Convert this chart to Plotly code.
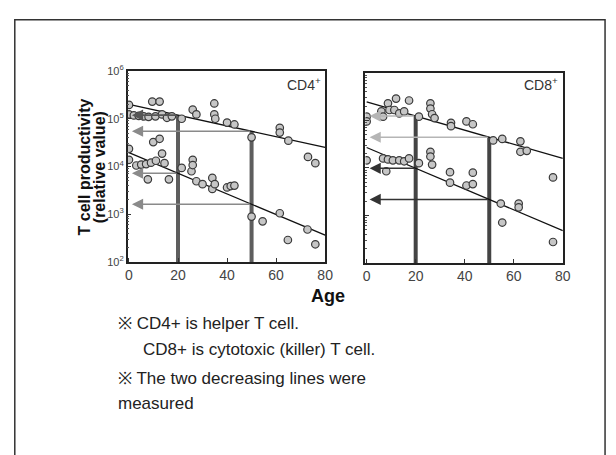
import plotly.graph_objects as go

W, H = 616, 455

# ---------------- data (log10 of relative value) ----------------
cd4_hi_age = [0, 0, 2, 4, 6, 8, 9.5, 10.8, 12.5, 13.5, 15.5, 17.5, 21.5, 26, 27.5, 34.8, 34.8, 35.2, 40, 43, 50, 61.5, 61.5, 65, 73, 76]
cd4_hi_log = [5.29, 5.09, 5.07, 5.06, 5.05, 5.04, 5.36, 5.05, 5.36, 5.09, 5.02, 5.05, 5.0, 5.19, 5.09, 5.32, 5.09, 5.0, 4.92, 4.88, 4.61, 4.81, 4.71, 4.54, 4.2, 4.07]
cd4_lo_age = [0, 0, 3, 5, 7, 7.7, 9, 9.9, 11, 12.5, 13.5, 14.5, 16.3, 21.5, 25.5, 26, 26, 27.5, 30, 34, 34, 35, 40, 41.5, 43, 50, 54.5, 61.5, 64.8, 72.8, 76]
cd4_lo_log = [4.37, 4.14, 4.02, 4.04, 4.05, 3.73, 4.08, 4.51, 4.12, 4.58, 4.27, 4.07, 3.73, 3.97, 3.9, 4.14, 4.03, 3.69, 3.63, 3.76, 3.53, 3.63, 3.56, 3.59, 3.6, 2.95, 2.85, 3.02, 2.46, 2.68, 2.37]
cd8_hi_age = [0, 0, 6, 6.7, 8.7, 9.3, 11.3, 12, 13.3, 15.3, 17.3, 21.3, 26, 26, 26.7, 27.7, 34.4, 34.4, 40.7, 43.3, 51.6, 55.3, 62.7, 62.7, 65.3, 76]
cd8_hi_log = [5.08, 4.98, 5.19, 5.08, 5.36, 5.22, 5.22, 5.46, 5.15, 5.19, 5.42, 5.08, 5.36, 5.25, 5.13, 5.05, 4.95, 4.88, 4.98, 4.92, 4.58, 4.61, 4.56, 4.34, 4.36, 3.80]
cd8_lo_age = [0, 6.7, 8, 8.7, 10.7, 13.3, 15.3, 17.3, 21.3, 26, 26, 26.7, 34, 34, 40.7, 43.3, 43.3, 54.7, 55.3, 62, 62, 76]
cd8_lo_log = [4.16, 4.20, 3.93, 4.18, 4.16, 4.16, 4.14, 4.20, 4.10, 4.34, 4.24, 4.07, 3.91, 3.69, 3.63, 3.66, 3.90, 3.25, 2.85, 3.25, 3.17, 2.44]

# regression lines: [log value at age 0, log value at age 80]
cd4_hi_fit = [5.30, 4.40]
cd4_lo_fit = [4.29, 2.56]
cd8_hi_fit = [5.39, 4.20]
cd8_lo_fit = [4.43, 2.68]

marked_ages = [20, 50]
x_ticks = [0, 20, 40, 60, 80]
y_ticks = [2, 3, 4, 5, 6]
y_tick_text = ["10<sup>2</sup>", "10<sup>3</sup>", "10<sup>4</sup>", "10<sup>5</sup>", "10<sup>6</sup>"]

FONT = "Liberation Sans, Arial, sans-serif"


def fit_at(fit, age):
    return fit[0] + (fit[1] - fit[0]) * age / 80.0


def px(x):
    return x / W


def py(y):
    return 1 - y / H


fig = go.Figure()

marker = dict(symbol="circle", size=7.5, color="#c6c6c6", line=dict(color="#3a3a3a", width=1.2))

panels = [
    ("x", "y", cd4_hi_age, cd4_hi_log, cd4_lo_age, cd4_lo_log, cd4_hi_fit, cd4_lo_fit),
    ("x2", "y2", cd8_hi_age, cd8_hi_log, cd8_lo_age, cd8_lo_log, cd8_hi_fit, cd8_lo_fit),
]

arrow_cols = {
    "x": ["#555555", "#8a8a8a", "#8a8a8a", "#8a8a8a"],
    "x2": ["#b5b5b5", "#b5b5b5", "#333333", "#333333"],
}
vcol = {"x": "#5e5e5e", "x2": "#444444"}

for xa, ya, ha, hl, la, ll, hf, lf in panels:
    for a in marked_ages:
        fig.add_trace(go.Scatter(x=[a, a], y=[10 ** 2, 10 ** fit_at(hf, a)], mode="lines",
                                 line=dict(color=vcol[xa], width=4), xaxis=xa, yaxis=ya,
                                 showlegend=False, hoverinfo="skip"))
    for f in (hf, lf):
        fig.add_trace(go.Scatter(x=[0, 80], y=[10 ** f[0], 10 ** f[1]], mode="lines",
                                 line=dict(color="#111111", width=1.3), xaxis=xa, yaxis=ya,
                                 showlegend=False, hoverinfo="skip"))
    fig.add_trace(go.Scatter(x=ha, y=[10 ** v for v in hl], mode="markers", marker=marker,
                             xaxis=xa, yaxis=ya, showlegend=False))
    fig.add_trace(go.Scatter(x=la, y=[10 ** v for v in ll], mode="markers", marker=marker,
                             xaxis=xa, yaxis=ya, showlegend=False))
    cols = arrow_cols[xa]
    k = 0
    for f in (hf, lf):
        for a in marked_ages:
            yv = fit_at(f, a)
            fig.add_annotation(x=1.2, y=yv, ax=a, ay=yv, xref=xa, yref=ya, axref=xa, ayref=ya,
                               text="", showarrow=True, arrowhead=2, arrowsize=1.4,
                               arrowwidth=1.6, arrowcolor=cols[k])
            k += 1

axis_common = dict(showline=True, linecolor="#222222", linewidth=1.5, mirror=True,
                   showgrid=False, zeroline=False)
minor_vals = [k * 10 ** d for d in range(2, 6) for k in range(2, 10)]

fig.update_layout(
    width=W, height=H, margin=dict(l=0, r=0, t=0, b=0),
    paper_bgcolor="white", plot_bgcolor="white",
    font=dict(family=FONT, color="#222222"),
    xaxis=dict(domain=[px(127), px(328)], range=[-0.5, 80], tickvals=x_ticks,
               ticks="inside", ticklen=4, tickcolor="#333", tickfont=dict(size=14, color="#444"),
               anchor="y", **axis_common),
    yaxis=dict(domain=[py(262), py(65)], type="log", range=[2, 6], tickvals=[10 ** v for v in y_ticks],
               ticktext=y_tick_text, ticks="inside", ticklen=4, tickcolor="#333",
               tickfont=dict(size=11, color="#444"),
               minor=dict(ticks="inside", ticklen=2, tickcolor="#555", tickvals=minor_vals),
               anchor="x", **axis_common),
    xaxis2=dict(domain=[px(369), px(570)], range=[-0.5, 80], tickvals=x_ticks,
                ticks="inside", ticklen=4, tickcolor="#333", tickfont=dict(size=14, color="#444"),
                anchor="y2", **axis_common),
    yaxis2=dict(domain=[py(263), py(67)], type="log", range=[2, 6], tickvals=[10 ** v for v in y_ticks],
                showticklabels=False, ticks="inside", ticklen=4, tickcolor="#333",
                minor=dict(ticks="inside", ticklen=2, tickcolor="#555", tickvals=minor_vals),
                anchor="x2", **axis_common),
)

fig.add_shape(type="rect", xref="paper", yref="paper", x0=px(12), y0=py(470), x1=px(613), y1=py(12),
              line=dict(color="#333333", width=1.5), fillcolor="rgba(0,0,0,0)")

fig.add_annotation(x=px(326), y=py(78), xref="paper", yref="paper", text="CD4<sup>+</sup>",
                   showarrow=False, xanchor="right", yanchor="middle", font=dict(size=14, color="#333"))
fig.add_annotation(x=px(567), y=py(78), xref="paper", yref="paper", text="CD8<sup>+</sup>",
                   showarrow=False, xanchor="right", yanchor="middle", font=dict(size=14, color="#333"))

for tx, tt in ((83, "T cell productivity"), (99, "(relative value)")):
    fig.add_annotation(x=px(tx), y=py(164), xref="paper", yref="paper",
                       text="<b>" + tt + "</b>", textangle=-90,
                       showarrow=False, xanchor="center", yanchor="middle", font=dict(size=16, color="#111"))
fig.add_annotation(x=px(331), y=py(297), xref="paper", yref="paper", text="<b>Age</b>",
                   showarrow=False, xanchor="center", yanchor="middle", font=dict(size=18, color="#111"))

notes = [
    (115, 326, "※ CD4+ is helper T cell."),
    (141, 352, "CD8+ is cytotoxic (killer) T cell."),
    (115, 382, "※ The two decreasing lines were"),
    (115, 408, "measured"),
]
for nx, ny, t in notes:
    fig.add_annotation(x=px(nx), y=py(ny), xref="paper", yref="paper", text=t, showarrow=False,
                       xanchor="left", yanchor="middle", font=dict(size=17, color="#222"))

fig.write_html("out.html", config={"displayModeBar": False},
               post_script="document.body.style.margin='0';document.body.style.overflow='hidden';")
